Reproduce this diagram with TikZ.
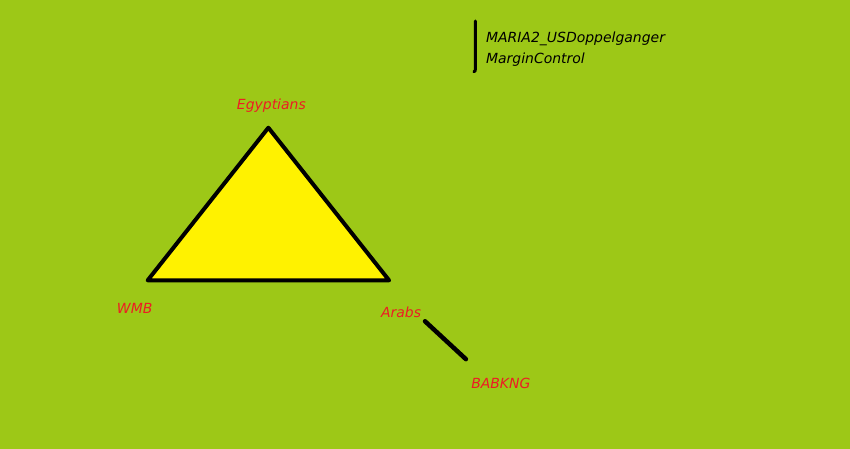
\documentclass[tikz,border=0pt]{standalone}
\usepackage{fontspec}
\setmainfont{DejaVu Sans}
\definecolor{paintgreen}{HTML}{9DC817}
\definecolor{paintyellow}{HTML}{FFF200}
\definecolor{paintred}{HTML}{ED1C24}
\tikzset{
  tag/.style={text=paintred, font=\fontsize{14}{16}\selectfont\itshape, inner sep=0pt},
  note/.style={text=black, font=\fontsize{14}{16}\selectfont\itshape, inner sep=0pt, anchor=west},
  stroke/.style={line width=4pt, line cap=round, line join=round}
}
\begin{document}
\begin{tikzpicture}[x=1pt, y=-1pt]
  \fill[paintgreen] (-1,-1) rectangle (851,449);
  \useasboundingbox (0,0) rectangle (850,448);
  % triangle corners
  \coordinate (egyptians) at (268,127);
  \coordinate (wmb) at (147,280);
  \coordinate (arabs) at (389,280);
  \filldraw[stroke, fill=paintyellow] (egyptians) -- (wmb) -- (arabs) -- cycle;
  % short link
  \coordinate (linkstart) at (425,321);
  \coordinate (linkend) at (466,359);
  \draw[stroke, line width=4.5pt] (linkstart) -- (linkend);
  % marker bar
  \coordinate (bartop) at (475.5,20);
  \coordinate (barbot) at (474,71);
  \draw[line width=3pt, line cap=round] (bartop) -- (475.5,67) .. controls (475.5,70) .. (barbot);
  % labels
  \node[tag] (egyptianslabel) at (271,105) {Egyptians};
  \node[tag] (wmblabel) at (134,308) {WMB};
  \node[tag] (arabslabel) at (401,312) {Arabs};
  \node[tag] (babknglabel) at (501,383) {BABKNG};
  \node[note] (marialabel) at (486,38) {MARIA2\_USDoppelganger};
  \node[note] (marginlabel) at (486,59) {MarginControl};
\end{tikzpicture}
\end{document}
